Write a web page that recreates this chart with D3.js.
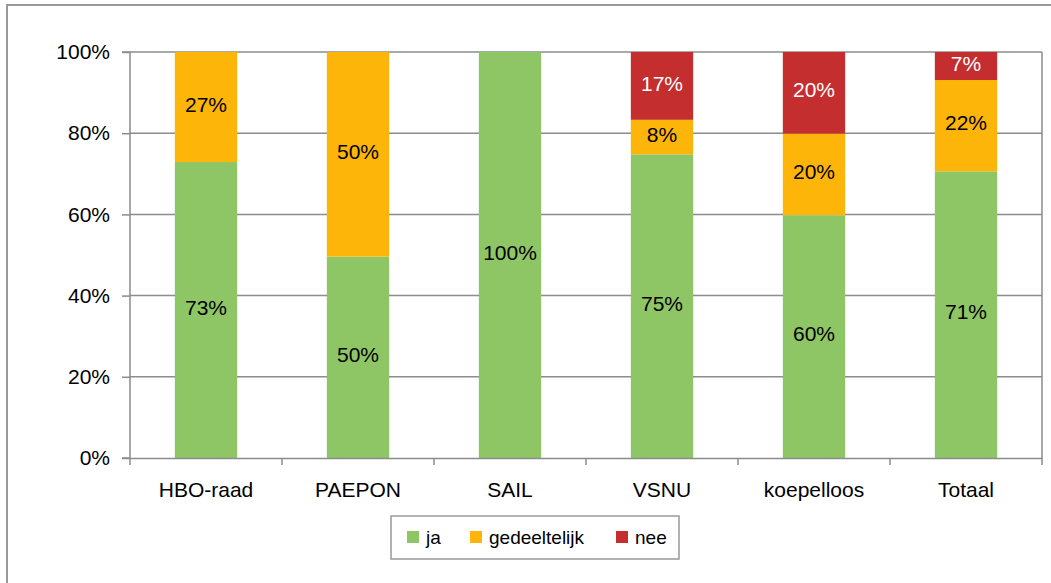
<!DOCTYPE html>
<html><head><meta charset="utf-8">
<script src="https://cdn.jsdelivr.net/npm/d3@7"></script>
<style>body{margin:0;background:#fff;} svg{display:block;font-family:"Liberation Sans",Arial,sans-serif;}</style>
</head><body>
<svg id="c" width="1051" height="583"></svg>
<script>
const categories = ["HBO-raad","PAEPON","SAIL","VSNU","koepelloos","Totaal"];
const ja = [72.9, 49.6, 100, 74.8, 59.8, 70.6];
const gedeeltelijk = [27.1, 50.4, 0, 8.5, 20.1, 22.5];
const nee = [0, 0, 0, 16.7, 20.1, 6.9];
const seriesNames = ["ja","gedeeltelijk","nee"];
const colors = ["#8EC665","#FDB50A","#C42E2F"];
const labelColors = ["#000","#000","#fff"];
const yTicks = [0,0.2,0.4,0.6,0.8,1.0];

const svg = d3.select("#c");
// outer frame
svg.append("rect").attr("x",7).attr("y",5).attr("width",1100).attr("height",700)
  .attr("fill","none").attr("stroke","#999").attr("stroke-width",2);

const L=130,R=1042,T=52,B=458;
const x = d3.scaleBand().domain(categories).range([L,R]).paddingInner(0.59).paddingOuter(0.295);
const xb = d3.scaleBand().domain(categories).range([L,R]);
const y = d3.scaleLinear().domain([0,1]).range([B,T]);

// gridlines
svg.append("g").selectAll("line").data(yTicks.slice(1)).join("line")
  .attr("x1",L).attr("x2",R).attr("y1",d=>y(d)).attr("y2",d=>y(d))
  .attr("stroke","#8c8c8c").attr("stroke-width",1.5);
// right border
svg.append("line").attr("x1",R).attr("x2",R).attr("y1",T).attr("y2",B).attr("stroke","#8c8c8c").attr("stroke-width",1.5);

const data = categories.map((c,i)=>({cat:c, ja:ja[i]/100, gedeeltelijk:gedeeltelijk[i]/100, nee:nee[i]/100}));
const stacked = d3.stack().keys(seriesNames)(data);

stacked.forEach((s,si)=>{
  const g = svg.append("g");
  g.selectAll("rect").data(s).join("rect")
    .attr("x",d=>x(d.data.cat)).attr("width",x.bandwidth())
    .attr("y",d=>y(d[1])).attr("height",d=>y(d[0])-y(d[1]))
    .attr("fill",colors[si]);
  g.selectAll("text").data(s.filter(d=>d[1]-d[0]>0.001)).join("text")
    .attr("x",d=>x(d.data.cat)+x.bandwidth()/2)
    .attr("y",d=>y((d[0]+d[1])/2))
    .attr("dy","0.22em").attr("text-anchor","middle")
    .attr("font-size",21).attr("fill",labelColors[si])
    .text(d=>Math.round((d[1]-d[0])*100)+"%");
});

// y axis
const yAxis = d3.axisLeft(y).tickValues(yTicks).tickFormat(d3.format(".0%")).tickSize(8).tickPadding(12);
const ya = svg.append("g").attr("transform",`translate(${L},0)`).call(yAxis);
ya.select(".domain").attr("stroke","#8c8c8c").attr("stroke-width",1.5).attr("d",`M-8,${T}H0V${B}H-8`);
ya.selectAll(".tick line").attr("stroke","#8c8c8c").attr("stroke-width",1.5);
ya.selectAll("text").attr("font-size",21).attr("fill","#000").attr("font-family","Liberation Sans, Arial, sans-serif");

// x axis
const xAxis = d3.axisBottom(xb).tickSize(0).tickPadding(24);
const xa = svg.append("g").attr("transform",`translate(0,${B})`).call(xAxis);
xa.select(".domain").attr("stroke","#8c8c8c").attr("stroke-width",1.5);
xa.selectAll("text").attr("font-size",21).attr("fill","#000").attr("font-family","Liberation Sans, Arial, sans-serif");
xa.selectAll(".bticks").data(categories.concat(["_end"])).join("line")
  .attr("x1",(d,i)=>L+i*xb.step()).attr("x2",(d,i)=>L+i*xb.step())
  .attr("y1",0).attr("y2",7).attr("stroke","#8c8c8c").attr("stroke-width",1.5);

// legend
const lg = svg.append("g");
lg.append("rect").attr("x",391).attr("y",516).attr("width",288).attr("height",43)
  .attr("fill","#fff").attr("stroke","#999").attr("stroke-width",1.5);
const lx = [407,470,616];
seriesNames.forEach((n,i)=>{
  lg.append("rect").attr("x",lx[i]).attr("y",531).attr("width",12).attr("height",12).attr("fill",colors[i]);
  lg.append("text").attr("x",lx[i]+19).attr("y",537).attr("dy","0.36em").attr("font-size",19).attr("fill","#000").text(n);
});
</script>
</body></html>
